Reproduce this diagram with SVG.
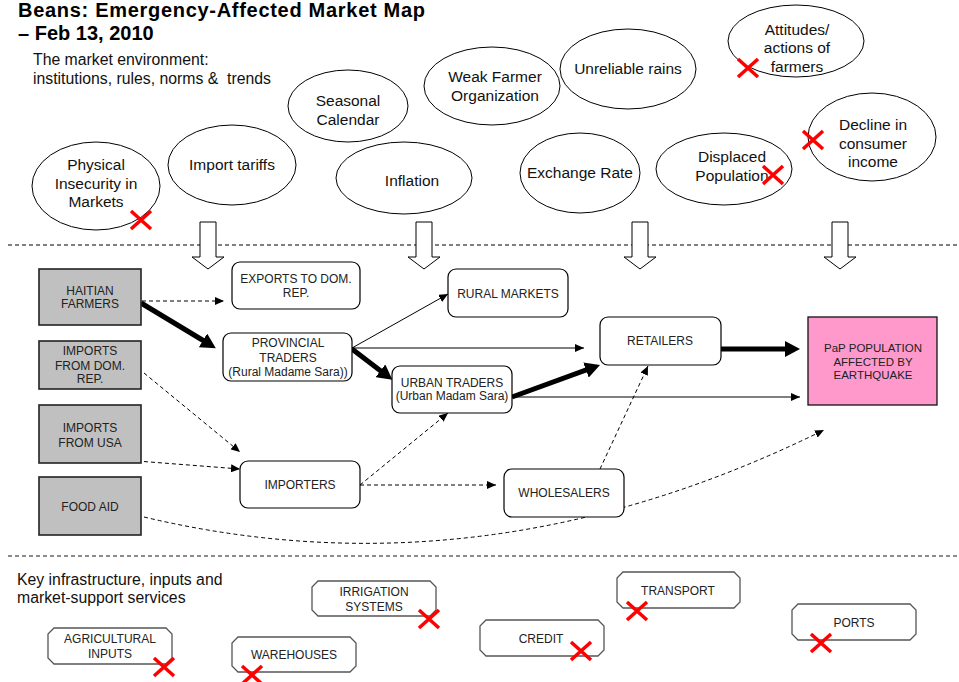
<svg xmlns="http://www.w3.org/2000/svg" width="959" height="682" viewBox="0 0 959 682">
<defs>
<style>
text{font-family:"Liberation Sans",Arial,sans-serif;fill:#111}
.t{font-size:20px;font-weight:bold;fill:#000}
.e{font-size:15.5px;text-anchor:middle}
.lab{font-size:15.8px;white-space:pre}
.n{font-size:12px;text-anchor:middle;fill:#222}
.el{fill:#fff;stroke:#000;stroke-width:1}
.gb{fill:#c0c0c0;stroke:#222;stroke-width:1.6}
.rb{fill:#fff;stroke:#000;stroke-width:1.2}
.ob{fill:#fff;stroke:#555;stroke-width:1.3}
.blk{fill:#fff;stroke:#000;stroke-width:1}
.sep{stroke:#000;stroke-width:1;stroke-dasharray:4 3}
.sep2{stroke:#666;stroke-width:1.3;stroke-dasharray:4 3}
.thin{fill:none;stroke:#000;stroke-width:1;marker-end:url(#ah)}
.dash{fill:none;stroke:#000;stroke-width:1;stroke-dasharray:4 3;marker-end:url(#ah)}
.thick{fill:none;stroke:#000;stroke-width:5;marker-end:url(#ahb)}
.x{stroke:#ff0000;stroke-width:3.5;fill:none}
</style>
<marker id="ah" markerUnits="userSpaceOnUse" markerWidth="10" markerHeight="8" refX="9" refY="4" orient="auto"><path d="M0,0 L9,4 L0,8 z" fill="#000"/></marker>
<marker id="ahb" markerUnits="userSpaceOnUse" markerWidth="16" markerHeight="16" refX="7" refY="8" orient="auto"><path d="M0,0 L15,8 L0,16 z" fill="#000"/></marker>
<g id="xm"><path class="x" d="M-10,-9 L10,9 M-10,9 L10,-9"/></g>
</defs>
<rect width="959" height="682" fill="#fff"/>

<g id="title">
<text class="t" x="18" y="17" textLength="407" lengthAdjust="spacing">Beans: Emergency-Affected Market Map</text>
<text class="t" x="18" y="40">– Feb 13, 2010</text>
<text class="lab" x="33" y="65">The market environment:</text>
<text class="lab" x="33" y="84" xml:space="preserve">institutions, rules, norms &amp;  trends</text>
</g>

<line class="sep" x1="8" y1="245" x2="959" y2="245"/>
<line class="sep2" x1="8" y1="556" x2="959" y2="556"/>

<g id="env-physical"><ellipse class="el" cx="96" cy="186" rx="64" ry="44"/>
<text class="e" x="96" y="170">Physical</text><text class="e" x="96" y="189">Insecurity in</text><text class="e" x="96" y="207">Markets</text>
<use href="#xm" x="141" y="220"/></g>
<g id="env-tariffs"><ellipse class="el" cx="232" cy="165" rx="64" ry="40"/>
<text class="e" x="232" y="170">Import tariffs</text></g>
<g id="env-seasonal"><ellipse class="el" cx="348" cy="106" rx="60" ry="36"/>
<text class="e" x="348" y="106">Seasonal</text><text class="e" x="348" y="125">Calendar</text></g>
<g id="env-inflation"><ellipse class="el" cx="404" cy="178" rx="68" ry="36"/>
<text class="e" x="412" y="186">Inflation</text></g>
<g id="env-weak"><ellipse class="el" cx="492" cy="86" rx="68" ry="39"/>
<text class="e" x="495" y="82">Weak Farmer</text><text class="e" x="495" y="101">Organization</text></g>
<g id="env-rains"><ellipse class="el" cx="628" cy="69" rx="68" ry="40"/>
<text class="e" x="628" y="74">Unreliable rains</text></g>
<g id="env-attitudes"><ellipse class="el" cx="796" cy="41" rx="68" ry="36"/>
<text class="e" x="797" y="35">Attitudes/</text><text class="e" x="797" y="53">actions of</text><text class="e" x="797" y="72">farmers</text>
<use href="#xm" x="748" y="68"/></g>
<g id="env-exchange"><ellipse class="el" cx="580" cy="173" rx="60" ry="40"/>
<text class="e" x="580" y="178">Exchange Rate</text></g>
<g id="env-displaced"><ellipse class="el" cx="724" cy="169" rx="68" ry="36"/>
<text class="e" x="732" y="162">Displaced</text><text class="e" x="732" y="181">Population</text>
<use href="#xm" x="773" y="175"/></g>
<g id="env-decline"><ellipse class="el" cx="872" cy="137" rx="64" ry="44"/>
<text class="e" x="873" y="130">Decline in</text><text class="e" x="873" y="149">consumer</text><text class="e" x="873" y="167">income</text>
<use href="#xm" x="813" y="140"/></g>

<g id="block-arrows">
<polygon class="blk" points="200,222 216,222 216,257 224,257 208,269 192,257 200,257"/>
<polygon class="blk" points="416,222 432,222 432,257 440,257 424,269 408,257 416,257"/>
<polygon class="blk" points="632,222 648,222 648,257 656,257 640,269 624,257 632,257"/>
<polygon class="blk" points="832,222 848,222 848,257 856,257 840,269 824,257 832,257"/>
</g>

<g id="connectors">
<path class="dash" d="M142,301 L224,301"/>
<path class="thick" d="M141,303 L209,344"/>
<path class="thin" d="M352,348 L448,294"/>
<path class="thin" d="M352,348 L584,348"/>
<path class="thick" d="M352,349 L386,375"/>
<path class="thick" d="M512,397 L592.5,367.7"/>
<path class="thin" d="M512,397 L800,397"/>
<path class="thick" d="M721,349 L792,349"/>
<path class="dash" d="M144,373 L240,452"/>
<path class="dash" d="M137,461 L240,469"/>
<path class="dash" d="M360,485 L448,413"/>
<path class="dash" d="M360,485 L496,485"/>
<path class="dash" d="M600,469 L648,366"/>
<path class="dash" d="M144,517 Q484,598 824,430"/>
</g>

<g id="haitian-farmers"><rect class="gb" x="39" y="269" width="102" height="56"/>
<text class="n" x="90" y="295">HAITIAN</text><text class="n" x="90" y="308">FARMERS</text></g>
<g id="imports-dom"><rect class="gb" x="39" y="341" width="102" height="48"/>
<text class="n" x="90" y="355">IMPORTS</text><text class="n" x="90" y="370">FROM DOM.</text><text class="n" x="90" y="383">REP.</text></g>
<g id="imports-usa"><rect class="gb" x="39" y="405" width="102" height="58"/>
<text class="n" x="90" y="432">IMPORTS</text><text class="n" x="90" y="447">FROM USA</text></g>
<g id="food-aid"><rect class="gb" x="39" y="477" width="102" height="58"/>
<text class="n" x="90" y="511">FOOD AID</text></g>

<g id="exports"><rect class="rb" x="232" y="262" width="128" height="47" rx="8"/>
<text class="n" x="296" y="283">EXPORTS TO DOM.</text><text class="n" x="296" y="297">REP.</text></g>
<g id="provincial"><rect class="rb" x="223" y="333" width="129" height="48" rx="8"/>
<text class="n" x="288" y="347">PROVINCIAL</text><text class="n" x="288" y="362">TRADERS</text><text class="n" x="288" y="376">(Rural Madame Sara))</text></g>
<g id="rural-markets"><rect class="rb" x="448" y="269" width="120" height="48" rx="8"/>
<text class="n" x="508" y="298">RURAL MARKETS</text></g>
<g id="urban-traders"><rect class="rb" x="392" y="366" width="120" height="47" rx="8"/>
<text class="n" x="452" y="387">URBAN TRADERS</text><text class="n" x="452" y="400">(Urban Madam Sara)</text></g>
<g id="retailers"><rect class="rb" x="600" y="317" width="121" height="48" rx="8"/>
<text class="n" x="660" y="345">RETAILERS</text></g>
<g id="importers"><rect class="rb" x="240" y="461" width="120" height="47" rx="8"/>
<text class="n" x="300" y="489">IMPORTERS</text></g>
<g id="wholesalers"><rect class="rb" x="504" y="469" width="120" height="48" rx="8"/>
<text class="n" x="564" y="497">WHOLESALERS</text></g>
<g id="pap"><rect x="808" y="317" width="129" height="88" fill="#ff99cc" stroke="#111" stroke-width="1.3"/>
<text class="n" x="873" y="352" style="font-size:11.5px">PaP POPULATION</text><text class="n" x="873" y="366" style="font-size:11.5px">AFFECTED BY</text><text class="n" x="873" y="379" style="font-size:11.5px">EARTHQUAKE</text></g>

<g id="infra-label">
<text class="lab" x="17" y="585">Key infrastructure, inputs and</text>
<text class="lab" x="17" y="603">market-support services</text>
</g>
<g id="agri"><polygon class="ob" points="54,628 166,628 172,634 172,658 166,664 54,664 48,658 48,634"/>
<text class="n" x="110" y="643">AGRICULTURAL</text><text class="n" x="110" y="658">INPUTS</text>
<use href="#xm" x="164" y="667"/></g>
<g id="irrigation"><polygon class="ob" points="318,581 430,581 436,587 436,610 430,616 318,616 312,610 312,587"/>
<text class="n" x="374" y="596">IRRIGATION</text><text class="n" x="374" y="611">SYSTEMS</text>
<use href="#xm" x="429" y="619"/></g>
<g id="warehouses"><polygon class="ob" points="238,637 350,637 356,643 356,666 350,672 238,672 232,666 232,643"/>
<text class="n" x="294" y="659">WAREHOUSES</text>
<use href="#xm" x="252" y="675"/></g>
<g id="credit"><polygon class="ob" points="486,620 598,620 604,626 604,650 598,656 486,656 480,650 480,626"/>
<text class="n" x="541" y="643">CREDIT</text>
<use href="#xm" x="581" y="651"/></g>
<g id="transport"><polygon class="ob" points="623,572 734,572 740,578 740,602 734,608 623,608 617,602 617,578"/>
<text class="n" x="678" y="595">TRANSPORT</text>
<use href="#xm" x="637" y="611"/></g>
<g id="ports"><polygon class="ob" points="798,604 910,604 916,610 916,634 910,640 798,640 792,634 792,610"/>
<text class="n" x="854" y="627">PORTS</text>
<use href="#xm" x="821" y="643"/></g>
</svg>
